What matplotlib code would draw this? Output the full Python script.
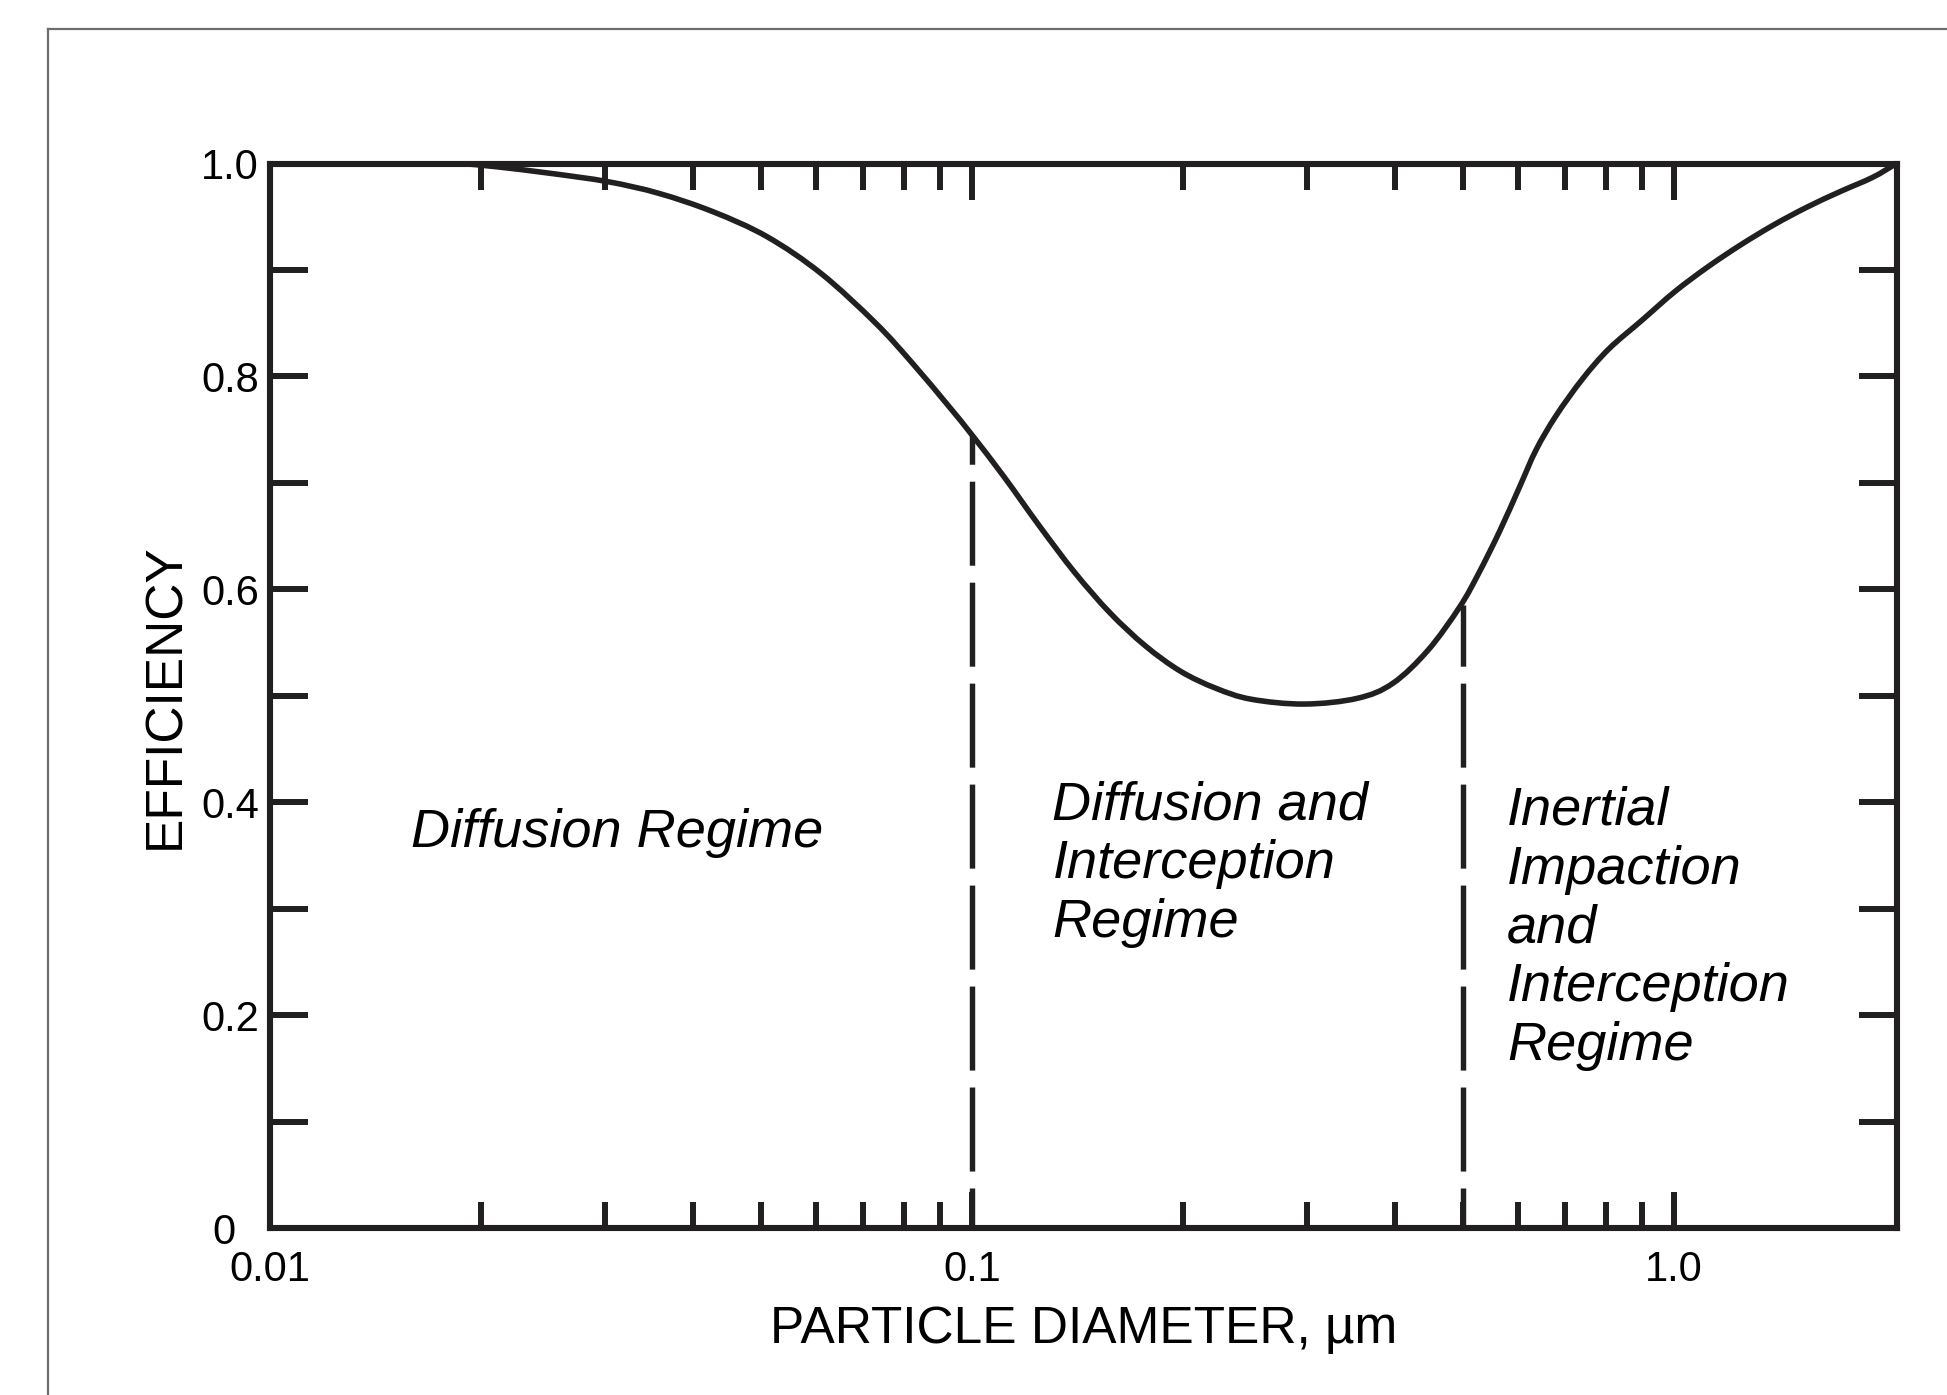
import numpy as np
import matplotlib
matplotlib.use('Agg')
import matplotlib.pyplot as plt
from matplotlib.ticker import FixedLocator, FixedFormatter, NullFormatter
from matplotlib.lines import Line2D
from matplotlib.path import Path
from matplotlib.patches import PathPatch

plt.rcParams['font.family'] = ['Liberation Sans', 'DejaVu Sans']
plt.rcParams['lines.scale_dashes'] = False

INK = '#221f20'

# collection efficiency vs particle diameter
diameter = [0.01, 0.0188, 0.02098, 0.02506, 0.0303, 0.03578, 0.04276, 0.05107, 0.06101,
            0.07292, 0.0821, 0.09247, 0.1, 0.111, 0.1246, 0.14, 0.1572, 0.1765, 0.1982,
            0.2226, 0.25, 0.2975, 0.354, 0.3977, 0.4466, 0.4955, 0.527, 0.564, 0.6025,
            0.6361, 0.6787, 0.7404, 0.8074, 0.8995, 1.0023, 1.117, 1.245, 1.387, 1.546,
            1.722, 1.919, 2.075]
efficiency = [1.0, 1.0, 0.997, 0.9908, 0.9829, 0.972, 0.9547, 0.9312, 0.8965,
              0.85, 0.813, 0.7727, 0.745, 0.706, 0.66, 0.616, 0.578, 0.547, 0.523,
              0.507, 0.4967, 0.4922, 0.4976, 0.5117, 0.543, 0.5837, 0.615, 0.654, 0.696,
              0.7309, 0.7627, 0.7974, 0.8257, 0.8525, 0.8795, 0.9028, 0.9236, 0.9423, 0.9589,
              0.9734, 0.987, 1.0]

# regime boundaries (dashed) and where they meet the curve
boundary_d = [0.1, 0.5]
boundary_top = [0.745, 0.585]

regime_lines = [['Diffusion Regime'],
                ['Diffusion and', 'Interception', 'Regime'],
                ['Inertial', 'Impaction', 'and', 'Interception', 'Regime']]
regime_d = [0.01587, 0.1302, 0.5783]
regime_eff = [0.358, 0.3842, 0.3786]

x_major = [0.01, 0.1, 1.0]
x_major_labels = ['0.01', '0.1', '1.0']
x_minor = [0.02, 0.03, 0.04, 0.05, 0.06, 0.07, 0.08, 0.09,
           0.2, 0.3, 0.4, 0.5, 0.6, 0.7, 0.8, 0.9]
y_ticks = [0.0, 0.1, 0.2, 0.3, 0.4, 0.5, 0.6, 0.7, 0.8, 0.9, 1.0]
y_labels = ['0  ', '', '0.2', '', '0.4', '', '0.6', '', '0.8', '', '1.0']


def smooth_path(xs, ys):
    # straight run along the top, then a Catmull-Rom bezier through the read points
    pts = np.column_stack([np.log10(xs[1:]), ys[1:]])
    p = np.vstack([2 * pts[0] - pts[1], pts, 2 * pts[-1] - pts[-2]])
    verts = [[np.log10(xs[0]), ys[0]], pts[0]]
    codes = [Path.MOVETO, Path.LINETO]
    for i in range(1, len(p) - 2):
        c1 = p[i] + (p[i + 1] - p[i - 1]) / 6
        c2 = p[i + 1] - (p[i + 2] - p[i]) / 6
        verts += [c1, c2, p[i + 1]]
        codes += [Path.CURVE4] * 3
    verts = np.array(verts)
    verts[:, 0] = 10 ** verts[:, 0]
    return Path(verts, codes)


W, H = 1947, 1395
fig = plt.figure(figsize=(W / 100, H / 100), dpi=100)
ax = fig.add_axes([270 / W, 1 - 1228 / H, (1896.5 - 270) / W, (1228 - 163.5) / H])
ax.set_xscale('log')
ax.set_xlim(0.01, 2.075)
ax.set_ylim(0, 1.0)

ax.add_patch(PathPatch(smooth_path(diameter, efficiency), fill=False, edgecolor=INK,
                       lw=4.0, joinstyle='round', zorder=3))
for d, top in zip(boundary_d, boundary_top):
    ax.plot([d, d], [0, top], color=INK, lw=3.9, ls=(31.7, (60.5, 12.2)), zorder=2)

for lines, d, e in zip(regime_lines, regime_d, regime_eff):
    for i, txt in enumerate(lines):
        ax.annotate(txt, (d, e), xytext=(0, -42.3 * i), textcoords='offset points',
                    ha='left', va='baseline', fontsize=39, style='italic', color='black')

ax.xaxis.set_major_locator(FixedLocator(x_major))
ax.xaxis.set_major_formatter(FixedFormatter(x_major_labels))
ax.xaxis.set_minor_locator(FixedLocator(x_minor))
ax.xaxis.set_minor_formatter(NullFormatter())
ax.yaxis.set_major_locator(FixedLocator(y_ticks))
ax.yaxis.set_major_formatter(FixedFormatter(y_labels))

for s in ax.spines.values():
    s.set_linewidth(4.4)
    s.set_color(INK)

ax.tick_params(axis='x', which='major', direction='in', length=26, width=4.3, color=INK,
               top=True, bottom=True, pad=16, labelsize=30)
ax.tick_params(axis='x', which='minor', direction='in', length=18.7, width=4.3, color=INK,
               top=True, bottom=True)
ax.tick_params(axis='y', which='major', direction='in', length=27.4, width=4.3, color=INK,
               left=True, right=True, pad=8, labelsize=30)

fig.text(1083.25 / W, 1 - 1343.3 / H, 'PARTICLE DIAMETER, \u00b5m', ha='center', va='baseline',
         fontsize=37)
fig.text(179 / W, 1 - 695.75 / H, 'EFFICIENCY', rotation=90, rotation_mode='anchor',
         ha='center', va='baseline', fontsize=37)

# grey page frame
fx, fy = 48 / W, 1 - 29 / H
fig.add_artist(Line2D([fx, fx], [0, fy], color='#6d6d6d', lw=1.6))
fig.add_artist(Line2D([fx, 1], [fy, fy], color='#6d6d6d', lw=1.6))

fig.savefig('out.png', dpi=100)
